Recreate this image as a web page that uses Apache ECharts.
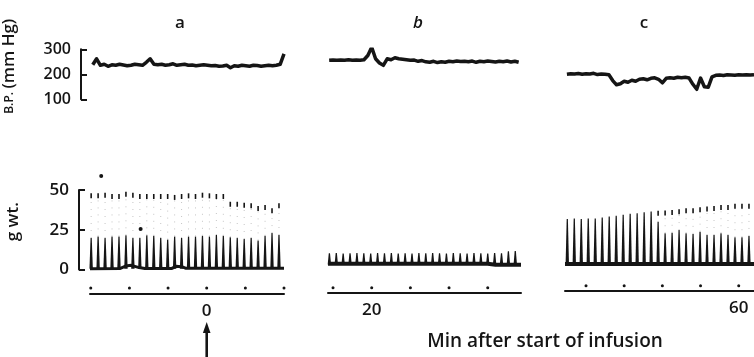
<!DOCTYPE html>
<html>
<head>
<meta charset="utf-8">
<script src="https://cdn.jsdelivr.net/npm/echarts@6/dist/echarts.min.js"></script>
<style>
  html, body { margin: 0; padding: 0; background: #fff; }
  #chart { width: 754px; height: 357px; }
</style>
</head>
<body>
<div id="chart"></div>
<script>
// three strips of the recording: a (around start of infusion), b (~20 min), c (~60 min)
var panelNames = ['a', 'b', 'c'];
var timeLabels = [0, 20, 60];
var infusionStart = 0;

// blood pressure (mm Hg), sampled every 0.1 min from bpStart of each strip
var bpStart = [-3.0, 18.9, 55.5];
var bpStep = 0.1;
var bpA = [238, 262, 236, 240, 232, 238, 236, 240, 237, 234,
           236, 240, 238, 236, 248, 262, 240, 238, 240, 236,
           238, 242, 236, 238, 240, 236, 237, 234, 236, 238,
           236, 234, 235, 232, 233, 236, 226, 234, 232, 236,
           234, 232, 236, 235, 232, 234, 236, 234, 236, 240,
           282];
var bpB = [256, 257, 256, 257, 256, 258, 256, 257, 256, 258,
           275, 308, 262, 245, 236, 262, 258, 266, 262, 260,
           258, 256, 257, 252, 255, 250, 248, 252, 247, 250,
           248, 252, 250, 253, 251, 252, 250, 253, 248, 252,
           250, 253, 251, 249, 252, 250, 253, 249, 252, 248];
var bpC = [200, 202, 201, 203, 200, 202, 201, 204, 199, 201,
           200, 198, 175, 158, 162, 172, 168, 176, 172, 180,
           182, 178, 184, 186, 180, 166, 184, 186, 184, 188,
           186, 188, 185, 160, 140, 185, 150, 148, 190, 196,
           197, 195, 198, 197, 196, 198, 197, 198, 197, 198];

// twitch tension (g wt.): first twitch time and twitch period (min) for each strip
var twitchStart = [-2.99, 18.906, 55.51];
var twitchStep = [0.18, 0.178, 0.183];
var twitchBase = [0.5, 3.2, 3.0];
// solid part of each twitch and its peak (the faint upstroke reaches the peak)
var solidA = [19.8, 20.8, 19.8, 20.8, 20.8, 21.5, 19.8, 19.8, 21.5, 21.2, 19.8, 18.8, 20.8, 19.8,
              20.8, 20.8, 21.2, 20.8, 21.7, 21.2, 20.3, 19.8, 19.2, 19.8, 18.3, 21.2, 22.9, 21.7];
var peakA = [47.9, 47.9, 48.3, 47.5, 47.5, 48.9, 48.3, 47.5, 47.5, 47.5, 47.5, 47.5, 46.9, 47.5,
             47.9, 47.5, 48.3, 47.9, 47.5, 47.5, 42.6, 42.6, 42.0, 41.6, 39.9, 40.6, 38.5, 41.6];
var solidB = [10.2, 10.4, 10.0, 10.2, 10.4, 10.2, 10.0, 10.3, 10.2, 10.4, 10.1, 10.2, 10.0, 10.3,
              10.2, 10.4, 10.2, 10.1, 10.3, 10.2, 10.0, 10.4, 10.2, 10.1, 10.3, 10.2, 11.4, 11.6];
var peakB = solidB;
var solidC = [31.7, 32.1, 31.7, 32.1, 32.1, 32.7, 33.3, 33.8, 34.4, 35.0, 35.4, 36.0, 36.5, 30.0,
              22.8, 23.1, 24.8, 22.8, 22.4, 23.8, 21.7, 21.7, 22.8, 21.7, 20.3, 20.3, 21.1];
var peakC = [31.7, 32.1, 31.7, 32.1, 32.1, 32.7, 33.3, 33.8, 34.4, 35.0, 35.4, 36.0, 36.5, 36.9,
             37.1, 37.5, 37.9, 38.5, 38.5, 39.2, 39.6, 40.0, 40.6, 40.6, 41.3, 41.3, 41.3];

// resting tension trace [min, g]
var baseA = [[-3.02, 0.5], [-2.25, 0.6], [-2.1, 2.2], [-1.95, 2.6], [-1.75, 1.2], [-1.6, 0.6],
             [-0.9, 0.7], [-0.8, 2.0], [-0.65, 1.8], [-0.55, 0.8], [2.0, 0.8]];
var baseB = [[18.87, 3.6], [23.0, 3.6], [23.2, 3.0], [23.86, 3.0]];
var baseC = [[55.45, 3.4], [60.4, 3.4]];

// stray pen marks in strip a [min, g]
var strayA = [[-2.73, 58.8], [-1.71, 25.5]];

// 1-min time marks
var minuteMarks = [[-3, -2, -1, 0, 1, 2], [19, 20, 21, 22, 23], [56, 57, 58, 59, 60]];

var ink = '#151515';
var font = '"Open Sans", Lato, sans-serif';
var weight = 600;

var xRanges = [[-3.02, 2.0], [18.87, 23.86], [55.45, 60.4]];
var lefts = [90, 328, 565];
var widths = [194, 193, 189];
var axisOffsets = [23.8, 22.8, 21.2];
var dotLevel = [-11.6, -11.4, -10.2];

var bpSets = [bpA, bpB, bpC];
var solidSets = [solidA, solidB, solidC];
var peakSets = [peakA, peakB, peakC];
var baseSets = [baseA, baseB, baseC];

function renderTwitch(params, api) {
  var t = api.value(0);
  var p0 = api.coord([t, api.value(1)]);
  var p1 = api.coord([t, api.value(2)]);
  var p2 = api.coord([t, api.value(3)]);
  var children = [{
    type: 'polygon',
    shape: { points: [[p0[0] - 1.7, p0[1]], [p0[0] + 1.7, p0[1]], [p1[0] + 0.6, p1[1]], [p1[0] - 0.6, p1[1]]] },
    style: { fill: ink }
  }];
  if (api.value(3) - api.value(2) > 0.5) {
    children.push({
      type: 'line',
      shape: { x1: p1[0], y1: p1[1], x2: p2[0], y2: p2[1] + 5 },
      style: { stroke: '#c4c4c4', lineWidth: 1, lineDash: [1, 6] }
    });
    children.push({
      type: 'rect',
      shape: { x: p2[0] - 0.8, y: p2[1], width: 1.6, height: 5 },
      style: { fill: ink }
    });
  }
  return { type: 'group', children: children };
}

var grids = [], xAxes = [], yAxes = [], series = [];

for (var i = 0; i < 3; i++) {
  // blood pressure grid
  grids.push({ left: lefts[i], width: widths[i], top: 49.3, height: 50 });
  xAxes.push({ type: 'value', gridIndex: i, min: xRanges[i][0], max: xRanges[i][1], show: false });
  yAxes.push({
    type: 'value', gridIndex: i, min: 100, max: 300, interval: 100, show: i === 0,
    position: 'left', offset: 11,
    name: i === 0 ? '{s|B.P.} {l|(mm Hg)}' : '',
    nameLocation: 'middle', nameGap: 63,
    nameTextStyle: {
      color: ink, padding: [0, 0, 0, 16],
      rich: {
        s: { fontFamily: font, fontSize: 12, fontWeight: weight, color: ink },
        l: { fontFamily: font, fontSize: 17, fontWeight: weight, color: ink }
      }
    },
    axisLine: { show: true, onZero: false, lineStyle: { color: ink, width: 2 } },
    axisTick: { show: true, inside: true, length: 6, lineStyle: { color: ink, width: 2 } },
    axisLabel: { color: ink, fontFamily: font, fontSize: 16, fontWeight: weight, margin: 10 },
    splitLine: { show: false }
  });
}
for (var j = 0; j < 3; j++) {
  // twitch tension grid with time axis below
  grids.push({ left: lefts[j], width: widths[j], top: 190, height: 79.5 });
  xAxes.push({
    type: 'value', gridIndex: 3 + j, min: xRanges[j][0], max: xRanges[j][1],
    position: 'bottom', offset: axisOffsets[j],
    axisLine: { show: true, onZero: false, lineStyle: { color: ink, width: 2 } },
    axisTick: { show: false },
    splitLine: { show: false },
    axisLabel: {
      customValues: [timeLabels[j]],
      color: ink, fontFamily: font, fontSize: 17, fontWeight: weight, margin: 9
    }
  });
  yAxes.push({
    type: 'value', gridIndex: 3 + j, min: 0, max: 50, interval: 25, show: j === 0,
    position: 'left', offset: 11,
    name: j === 0 ? 'g wt.' : '',
    nameLocation: 'middle', nameGap: 57,
    nameTextStyle: { color: ink, fontFamily: font, fontSize: 17, fontWeight: weight, padding: [0, 0, 0, 16] },
    axisLine: { show: true, onZero: false, lineStyle: { color: ink, width: 2 } },
    axisTick: { show: true, inside: true, length: 6, lineStyle: { color: ink, width: 2 } },
    axisLabel: { color: ink, fontFamily: font, fontSize: 17, fontWeight: weight, margin: 10 },
    splitLine: { show: false }
  });
}

for (var k = 0; k < 3; k++) {
  series.push({
    type: 'line', xAxisIndex: k, yAxisIndex: k, symbol: 'none', silent: true,
    lineStyle: { color: ink, width: 3.5, join: 'round' },
    data: bpSets[k].map(function (v, n) { return [bpStart[k] + n * bpStep, v]; })
  });
  series.push({
    type: 'line', xAxisIndex: 3 + k, yAxisIndex: 3 + k, symbol: 'none', silent: true,
    lineStyle: { color: ink, width: k === 0 ? 3 : 4 },
    data: baseSets[k], z: 3
  });
  series.push({
    type: 'custom', xAxisIndex: 3 + k, yAxisIndex: 3 + k, silent: true,
    renderItem: renderTwitch,
    encode: { x: 0, y: [1, 2, 3] },
    data: solidSets[k].map(function (s, n) {
      return [twitchStart[k] + n * twitchStep[k], twitchBase[k], s, peakSets[k][n]];
    }),
    z: 2
  });
  series.push({
    type: 'scatter', xAxisIndex: 3 + k, yAxisIndex: 3 + k, silent: true, clip: false,
    symbol: 'circle', symbolSize: 3, itemStyle: { color: ink, opacity: 1 },
    data: minuteMarks[k].map(function (m) { return [m, dotLevel[k]]; })
  });
}
series.push({
  type: 'scatter', xAxisIndex: 3, yAxisIndex: 3, silent: true, clip: false,
  symbol: 'circle', symbolSize: 4, itemStyle: { color: ink, opacity: 1 },
  data: strayA
});

var chart = echarts.init(document.getElementById('chart'));
chart.setOption({
  backgroundColor: '#fff',
  animation: false,
  grid: grids,
  xAxis: xAxes,
  yAxis: yAxes,
  series: series
});

var arrowX = chart.convertToPixel({ xAxisIndex: 3 }, infusionStart);
var labelX = [180, 418, 644];
chart.setOption({
  graphic: [
    { type: 'text', x: labelX[0], y: 32, style: { text: panelNames[0], fill: ink, fontFamily: font, fontSize: 17, fontWeight: weight, align: 'center', verticalAlign: 'bottom' } },
    { type: 'text', x: labelX[1], y: 32, style: { text: panelNames[1], fill: ink, fontFamily: font, fontSize: 17, fontWeight: weight, fontStyle: 'italic', align: 'center', verticalAlign: 'bottom' } },
    { type: 'text', x: labelX[2], y: 32, style: { text: panelNames[2], fill: ink, fontFamily: font, fontSize: 17, fontWeight: weight, align: 'center', verticalAlign: 'bottom' } },
    { type: 'text', x: 545, y: 351, style: { text: 'Min after start of infusion', fill: ink, fontFamily: font, fontSize: 19, fontWeight: weight, align: 'center', verticalAlign: 'bottom' } },
    {
      type: 'group', x: arrowX, y: 0,
      children: [
        { type: 'polygon', shape: { points: [[0, 322], [-3.8, 333], [3.8, 333]] }, style: { fill: ink } },
        { type: 'rect', shape: { x: -1.3, y: 331, width: 2.6, height: 26 }, style: { fill: ink } }
      ]
    }
  ]
});

window.addEventListener('resize', function () { chart.resize(); });
</script>
</body>
</html>
